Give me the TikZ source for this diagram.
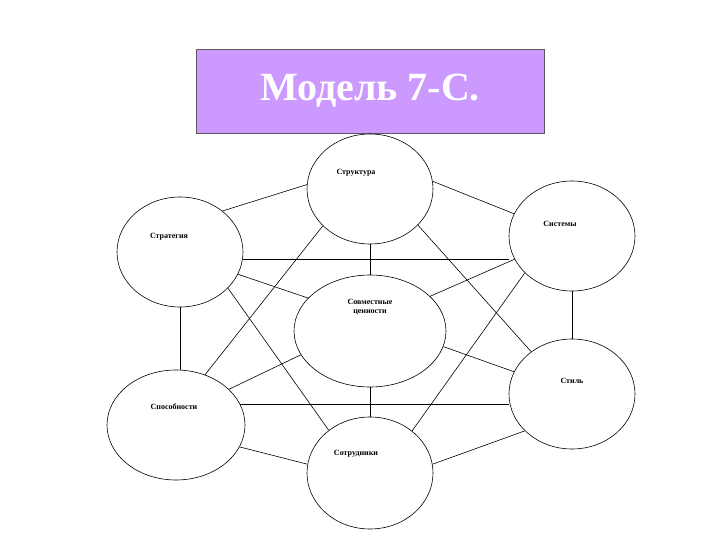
\documentclass[tikz,border=0pt]{standalone}
\usepackage{fontspec}
\setmainfont{Liberation Serif}
\usetikzlibrary{shapes.geometric}
\definecolor{titlefill}{RGB}{204,153,255}
\tikzset{
  oval/.style={draw,ellipse,inner sep=0pt,line width=0.6pt},
  lbl/.style={font=\bfseries\fontsize{8}{9}\selectfont,align=center,inner sep=0pt},
  link/.style={line width=0.6pt}
}
\begin{document}
\begin{tikzpicture}[x=1pt,y=-1pt]
\useasboundingbox (0,0) rectangle (720,540);
\node[draw=gray!70!black,fill=titlefill,minimum width=348pt,minimum height=84pt,inner sep=0pt,
  text=white,font=\bfseries\fontsize{40}{44}\selectfont] (title) at (370,91) {Модель 7-С.};
\node[oval,minimum width=126pt,minimum height=110pt] (str) at (370,189) {};
\node[oval,minimum width=126pt,minimum height=110pt] (sys) at (572,236) {};
\node[oval,minimum width=126pt,minimum height=110pt] (stg) at (180,252) {};
\node[oval,minimum width=152pt,minimum height=112pt] (sov) at (370,331) {};
\node[oval,minimum width=126pt,minimum height=110pt] (sti) at (572,394) {};
\node[oval,minimum width=138pt,minimum height=110pt] (spo) at (176,425) {};
\node[oval,minimum width=126pt,minimum height=112pt] (sot) at (370,473) {};
\node[lbl] (l1) at (356,173) {Структура};
\node[lbl] (l2) at (560,224) {Системы};
\node[lbl] (l3) at (169,237) {Стратегия};
\node[lbl] (l4) at (370,307) {Совместные\\ценности};
\node[lbl] (l5) at (572,381) {Стиль};
\node[lbl] (l6) at (174,407) {Способности};
\node[lbl] (l7) at (356,454) {Сотрудники};
\draw[link] (str.176) -- (stg.44);
\draw[link] (str.7) -- (sys.159);
\draw[link] (stg.-7) -- (stg.-7 -| sys.west);
\draw[link] (str.south) -- (sov.north);
\draw[link] (stg.-21) -- (sov.152);
\draw[link] (sys.202) -- (sov.30);
\draw[link] (stg.south) -- (stg.south |- spo.north);
\draw[link] (sys.south) -- (sti.north);
\draw[link] (str.218) -- (spo.60);
\draw[link] (str.-37) -- (sti.134);
\draw[link] (stg.-37) -- (sot.134);
\draw[link] (sys.218) -- (sot.45);
\draw[link] (sov.-12) -- (sti.159);
\draw[link] (sov.199) -- (spo.34);
\draw[link] (sov.south) -- (sot.north);
\draw[link] (spo.18) -- (spo.18 -| sti.west);
\draw[link] (spo.-19) -- (sot.172);
\draw[link] (sti.218) -- (sot.8);
\end{tikzpicture}
\end{document}
